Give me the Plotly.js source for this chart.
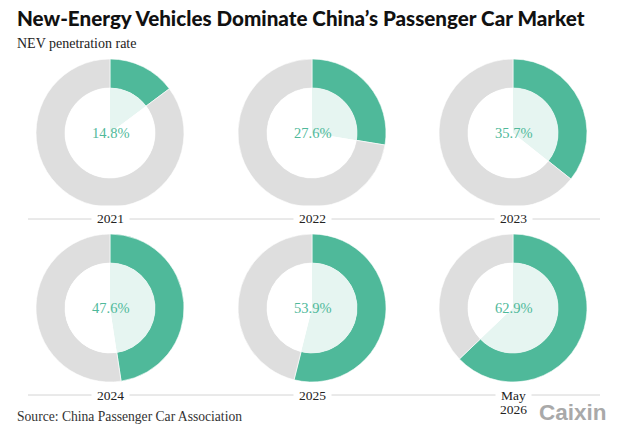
<!DOCTYPE html>
<html><head><meta charset="utf-8">
<script src="https://cdn.plot.ly/plotly-3.0.1.min.js"></script>
<style>html,body{margin:0;padding:0;background:#fff}#chart{width:623px;height:429px}</style>
</head><body><div id="chart"></div>
<script>
const periods = ["2021", "2022", "2023", "2024", "2025", "May<br>2026"];
const nevShare = [14.8, 27.6, 35.7, 47.6, 53.9, 62.9];

const W = 623, H = 429;
const GREEN = "#4fb99a", GRAY = "#dedede", LIGHT = "#e6f5f1";
const centersX = [110, 312, 513];
const centersY = [133, 308];
const lineY = [219, 395];
const R = 74, RI = 45;
const SERIF = "Liberation Serif, DejaVu Serif, serif";

function dom(cx, cy, r) {
  return {x: [(cx - r) / W, (cx + r) / W], y: [(H - cy - r) / H, (H - cy + r) / H]};
}

const traces = [];
const annotations = [];
nevShare.forEach((v, i) => {
  const row = Math.floor(i / 3);
  const cx = centersX[i % 3], cy = centersY[row];
  traces.push({
    type: "pie", values: [v, 100 - v], sort: false, direction: "clockwise", rotation: 0,
    hole: RI / R, domain: dom(cx, cy, R), textinfo: "none", hoverinfo: "skip",
    marker: {colors: [GREEN, GRAY], line: {color: "#fff", width: 0.6}}, showlegend: false
  });
  traces.push({
    type: "pie", values: [v, 100 - v], sort: false, direction: "clockwise", rotation: 0,
    domain: dom(cx, cy, RI), textinfo: "none", hoverinfo: "skip",
    marker: {colors: [LIGHT, "#ffffff"], line: {width: 0}}, showlegend: false
  });
  annotations.push({
    xref: "paper", yref: "paper", x: cx / W, y: (H - cy) / H, text: v.toFixed(1) + "%",
    showarrow: false, xanchor: "center", yanchor: "middle",
    font: {family: SERIF, size: 14.5, color: GREEN}
  });
  const ly = lineY[row];
  const parts = periods[i].split("<br>");
  annotations.push({
    xref: "paper", yref: "paper", x: cx / W, y: (H - ly) / H, text: parts[0],
    showarrow: false, bgcolor: "#fff", borderpad: 5, xanchor: "center", yanchor: "middle",
    font: {family: SERIF, size: 13.5, color: "#222"}
  });
  if (parts[1]) {
    annotations.push({
      xref: "paper", yref: "paper", x: cx / W, y: (H - ly - 14) / H, text: parts[1],
      showarrow: false, xanchor: "center", yanchor: "middle",
      font: {family: SERIF, size: 13.5, color: "#222"}
    });
  }
});

annotations.push({
  xref: "paper", yref: "paper", x: 15 / W, y: (H - 18) / H, xanchor: "left", yanchor: "middle",
  text: "New-Energy Vehicles Dominate China’s Passenger Car Market", showarrow: false,
  font: {family: "Lato, sans-serif", size: 20.6, weight: 900, color: "#111"}
});
annotations.push({
  xref: "paper", yref: "paper", x: 15 / W, y: (H - 44) / H, xanchor: "left", yanchor: "middle",
  text: "NEV penetration rate", showarrow: false, font: {family: SERIF, size: 14, color: "#222"}
});
annotations.push({
  xref: "paper", yref: "paper", x: 15 / W, y: (H - 416) / H, xanchor: "left", yanchor: "middle",
  text: "Source: China Passenger Car Association", showarrow: false, font: {family: SERIF, size: 13.6, color: "#333"}
});
annotations.push({
  xref: "paper", yref: "paper", x: 609 / W, y: (H - 412) / H, xanchor: "right", yanchor: "middle",
  text: "<b>Caixin</b>", showarrow: false, font: {family: "Liberation Sans, Arial, sans-serif", size: 22.5, color: "#a9a9a9"}
});

const shapes = lineY.map(ly => ({
  type: "line", xref: "paper", yref: "paper", x0: 28 / W, x1: 600 / W, y0: (H - ly) / H, y1: (H - ly) / H,
  line: {color: "#d4d4d4", width: 1}, layer: "below"
}));

Plotly.newPlot("chart", traces, {
  width: W, height: H, margin: {l: 0, r: 0, t: 0, b: 0},
  paper_bgcolor: "#fff", plot_bgcolor: "#fff", showlegend: false,
  annotations: annotations, shapes: shapes
}, {staticPlot: true, displayModeBar: false});
</script></body></html>
